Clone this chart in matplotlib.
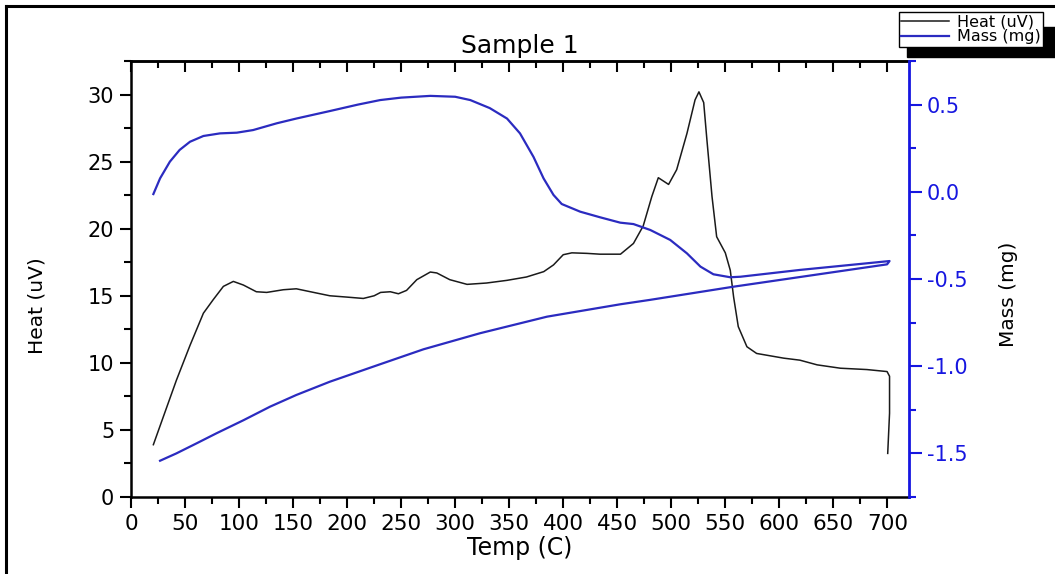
import matplotlib
matplotlib.use("Agg")
import matplotlib.pyplot as plt
from matplotlib.lines import Line2D
from matplotlib.patches import Rectangle
from matplotlib.ticker import MultipleLocator, FormatStrFormatter

plt.rcParams["font.family"] = ["DejaVu Sans"]
plt.rcParams["axes.unicode_minus"] = False

# ---- data (Temp in C) -------------------------------------------------------
heat_temp = [20.7, 30, 42, 54.6, 67, 76, 85.5, 94.7, 104, 116, 125.6, 141, 153,
             172, 184, 200, 215, 225, 231, 240, 247.5, 255, 264.5, 277, 283,
             295, 311, 329, 348, 366, 382, 391, 400, 408, 422, 434, 453, 465,
             474, 482, 488, 497.5, 505, 514.5, 522, 525.6, 530, 533, 537.7,
             542, 550, 554.6, 557.7, 562, 570, 579, 604, 619, 635, 656.5, 681,
             699.7, 702, 702, 700.3]
heat_uv = [3.9, 6.0, 8.7, 11.3, 13.7, 14.7, 15.7, 16.07, 15.8, 15.3, 15.25,
           15.45, 15.52, 15.2, 15.0, 14.9, 14.8, 15.0, 15.25, 15.3, 15.15,
           15.4, 16.2, 16.77, 16.7, 16.2, 15.85, 15.95, 16.15, 16.4, 16.8,
           17.3, 18.06, 18.2, 18.16, 18.1, 18.1, 18.9, 20.2, 22.4, 23.8, 23.3,
           24.4, 27.1, 29.6, 30.2, 29.4, 26.6, 22.4, 19.4, 18.2, 16.9, 14.9,
           12.7, 11.2, 10.7, 10.35, 10.2, 9.85, 9.6, 9.5, 9.35, 9.0, 6.25, 3.25]

# heating branch then the return branch
mass_temp = [20.7, 26.9, 36, 45, 54.6, 67, 82.4, 97.9, 113, 135, 153, 184, 210,
             230.6, 250, 277, 300, 314, 332, 348, 360, 372.5, 381.8, 391,
             398.6, 415.7, 434, 452.8, 465, 480.6, 499, 514.5, 527, 539, 554.6,
             564, 619, 681, 702, 699.7, 557.7, 480, 452.8, 385, 323, 270.7,
             230, 184, 153, 128.7, 104, 79, 60.8, 42, 26.9]
mass_mg = [-0.013, 0.077, 0.173, 0.24, 0.287, 0.32, 0.335, 0.339, 0.354, 0.393,
           0.42, 0.463, 0.50, 0.526, 0.54, 0.55, 0.545, 0.526, 0.48, 0.42,
           0.335, 0.2, 0.077, -0.018, -0.07, -0.114, -0.146, -0.177, -0.185,
           -0.219, -0.276, -0.353, -0.429, -0.473, -0.490, -0.487, -0.448,
           -0.410, -0.397, -0.416, -0.544, -0.62, -0.645, -0.716, -0.811,
           -0.903, -0.99, -1.089, -1.165, -1.232, -1.31, -1.385, -1.442, -1.5,
           -1.542]

BLUE_AX = "#1616e0"
BLUE_LN = "#2b2bc0"
W, H = 1055, 574

fig = plt.figure(figsize=(W / 100, H / 100), dpi=100)
ax = fig.add_axes([131 / W, 1 - 497 / H, (909 - 131) / W, (497 - 61) / H])
ax2 = ax.twinx()

h_heat, = ax.plot(heat_temp, heat_uv, color="#1a1a1a", lw=1.1, label="Heat (uV)")
h_mass, = ax2.plot(mass_temp, mass_mg, color=BLUE_LN, lw=1.6, label="Mass (mg)")

# ---- left / bottom axes -------------------------------------------------------
ax.set_xlim(0, 720)
ax.set_ylim(0, 32.5)
ax.xaxis.set_major_locator(MultipleLocator(50))
ax.xaxis.set_minor_locator(MultipleLocator(25))
ax.yaxis.set_major_locator(MultipleLocator(5))
ax.yaxis.set_minor_locator(MultipleLocator(2.5))
ax.tick_params(which="both", direction="out", width=1.5, labelsize=15,
               pad=4, right=False, top=False)
ax.tick_params(axis="x", labelsize=15.5)
ax.tick_params(which="major", length=8)
ax.tick_params(which="minor", length=5)
for s in ("left", "bottom", "top"):
    ax.spines[s].set_linewidth(1.8)
ax.spines["right"].set_visible(False)

# top axis line with inward ticks, no labels
top = ax.secondary_xaxis("top")
top.xaxis.set_major_locator(MultipleLocator(50))
top.xaxis.set_minor_locator(MultipleLocator(25))
top.tick_params(which="both", direction="in", width=1.5, labeltop=False)
top.tick_params(which="major", length=8)
top.tick_params(which="minor", length=5)
top.spines["top"].set_linewidth(1.8)

ax.set_xlabel("Temp (C)", fontsize=17)
ax.xaxis.set_label_coords(0.5, (497 - 548) / 436)
ax.xaxis.label.set_va("center")
ax.set_ylabel("Heat (uV)", fontsize=14.5)
ax.yaxis.set_label_coords((37 - 131) / 778, (497 - 306) / 436)
ax.yaxis.label.set_va("center")
ax.yaxis.label.set_ha("center")
ax.set_title("Sample 1", fontsize=18, pad=6)

# ---- right (mass) axis --------------------------------------------------------
ax2.set_ylim(-1.75, 0.75)
ax2.yaxis.set_major_locator(MultipleLocator(0.5))
ax2.yaxis.set_minor_locator(MultipleLocator(0.25))
ax2.yaxis.set_major_formatter(FormatStrFormatter("%.1f"))
ax2.tick_params(which="both", direction="out", width=1.5, labelsize=15,
                pad=4, colors=BLUE_AX)
ax2.tick_params(which="major", length=9)
ax2.tick_params(which="minor", length=5)
for s in ("left", "bottom", "top"):
    ax2.spines[s].set_visible(False)
ax2.spines["right"].set_color(BLUE_AX)
ax2.spines["right"].set_linewidth(2.0)
ax2.set_ylabel("Mass (mg)", fontsize=14.5, rotation=90)
ax2.yaxis.set_label_coords((1009 - 131) / 778, (497 - 294) / 436)
ax2.yaxis.label.set_va("center")
ax2.yaxis.label.set_ha("center")

# ---- legend (runs off the right edge, with a heavy drop shadow) --------------
fig.add_artist(Rectangle((907 / W, 1 - 57 / H), (1070 - 907) / W, 30 / H,
                         transform=fig.transFigure, color="black", zorder=4))
leg = fig.legend([h_heat, h_mass], ["Heat (uV)", "Mass (mg)"],
                 loc="upper left", bbox_to_anchor=(899 / W, 1 - 12 / H),
                 fontsize=11.5, frameon=True, fancybox=False, framealpha=1,
                 edgecolor="black", handlelength=3.0, handletextpad=0.5,
                 borderpad=0.15, labelspacing=0.0, borderaxespad=0)
leg.get_frame().set_linewidth(1.0)
leg.set_zorder(5)

# outer frame of the original screenshot (left and top edges only)
fig.add_artist(Line2D([6 / W, 6 / W], [0, 1 - 6 / H], color="black", lw=2.2,
                      transform=fig.transFigure))
fig.add_artist(Line2D([6 / W, 1], [1 - 6 / H, 1 - 6 / H], color="black", lw=2.2,
                      transform=fig.transFigure))

fig.savefig("out.png", dpi=100)
